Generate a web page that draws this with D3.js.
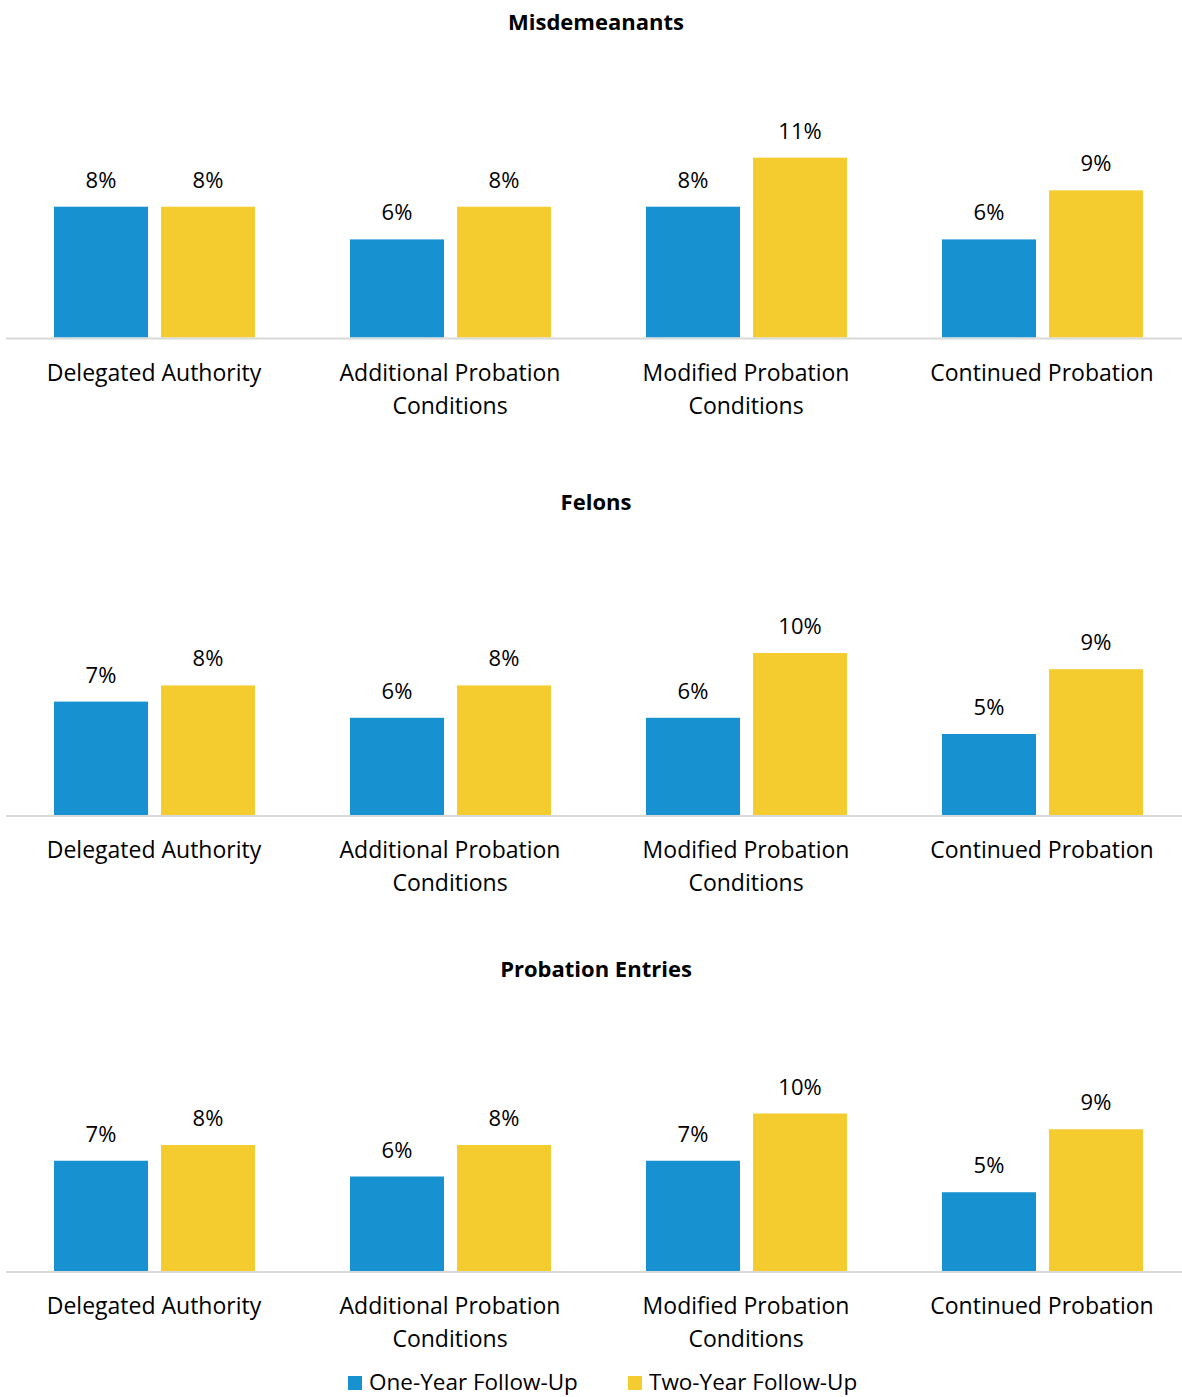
<!DOCTYPE html>
<html>
<head>
<meta charset="utf-8">
<script src="https://cdn.jsdelivr.net/npm/d3@7"></script>
<style>
  html, body { margin: 0; padding: 0; background: #fff; }
  svg { display: block; }
  text { font-family: "Open Sans", Lato, sans-serif; fill: #000; }
</style>
</head>
<body>
<svg id="chart" width="1182" height="1397"></svg>
<script>
// ---- Data ----
const categories = ["Delegated Authority", "Additional Probation Conditions", "Modified Probation Conditions", "Continued Probation"];
const seriesNames = ["One-Year Follow-Up", "Two-Year Follow-Up"];
const panelTitles = ["Misdemeanants", "Felons", "Probation Entries"];
const misdemeanantsOneYear = [0.08, 0.06, 0.08, 0.06];
const misdemeanantsTwoYear = [0.08, 0.08, 0.11, 0.09];
const felonsOneYear = [0.07, 0.06, 0.06, 0.05];
const felonsTwoYear = [0.08, 0.08, 0.10, 0.09];
const entriesOneYear = [0.07, 0.06, 0.07, 0.05];
const entriesTwoYear = [0.08, 0.08, 0.10, 0.09];

const panelData = [
  [misdemeanantsOneYear, misdemeanantsTwoYear],
  [felonsOneYear, felonsTwoYear],
  [entriesOneYear, entriesTwoYear]
];

// ---- Layout ----
const colors = ["#1891D1", "#F5CC30"];
const panels = [
  { titleY: 30,  base: 337.5, pxPerPct: 16.35 },
  { titleY: 510, base: 815,   pxPerPct: 16.2 },
  { titleY: 977, base: 1271,  pxPerPct: 15.75 }
];
const labelSize = 23;
const valueSize = 22;

const svg = d3.select("#chart");
const x0 = d3.scaleBand().domain(categories).range([6, 1190]).paddingInner(0).paddingOuter(0);
const x1 = d3.scaleBand().domain(seriesNames).range([48, 249]).paddingInner(0.1215).paddingOuter(0);
const fmt = d3.format(".0%");

function wrap(textSel, width, lineHeight) {
  textSel.each(function() {
    const t = d3.select(this);
    const words = t.text().split(/\s+/);
    const xPos = t.attr("x");
    const y = +t.attr("y");
    t.text(null);
    let line = [];
    let lineNo = 0;
    let tspan = t.append("tspan").attr("x", xPos).attr("y", y);
    for (const w of words) {
      line.push(w);
      tspan.text(line.join(" "));
      if (tspan.node().getComputedTextLength() > width && line.length > 1) {
        line.pop();
        tspan.text(line.join(" "));
        line = [w];
        lineNo++;
        tspan = t.append("tspan").attr("x", xPos).attr("y", y + lineNo * lineHeight).text(w);
      }
    }
  });
}

panels.forEach((p, pi) => {
  const y = d3.scaleLinear().domain([0, 0.12]).range([p.base, p.base - p.pxPerPct * 12]);
  const g = svg.append("g");

  g.append("text")
    .attr("x", 596).attr("y", p.titleY)
    .attr("text-anchor", "middle")
    .style("font-weight", "bold")
    .style("font-size", "22px")
    .text(panelTitles[pi]);

  const groups = g.selectAll("g.cat").data(categories).join("g")
    .attr("class", "cat")
    .attr("transform", d => `translate(${x0(d)},0)`);

  groups.selectAll("rect").data((d, ci) => seriesNames.map((s, si) => ({ s, si, v: panelData[pi][si][ci] })))
    .join("rect")
    .attr("x", d => x1(d.s))
    .attr("width", x1.bandwidth())
    .attr("y", d => y(d.v))
    .attr("height", d => y(0) - y(d.v))
    .attr("fill", d => colors[d.si]);

  groups.selectAll("text.val").data((d, ci) => seriesNames.map((s, si) => ({ s, si, v: panelData[pi][si][ci] })))
    .join("text")
    .attr("class", "val")
    .attr("x", d => x1(d.s) + x1.bandwidth() / 2)
    .attr("y", d => y(d.v) - 19)
    .attr("text-anchor", "middle")
    .style("font-size", valueSize + "px")
    .text(d => fmt(d.v));

  g.append("line")
    .attr("x1", 6).attr("x2", 1182)
    .attr("y1", p.base + 1).attr("y2", p.base + 1)
    .attr("stroke", "#D9D9D9").attr("stroke-width", 2);

  groups.append("text")
    .attr("class", "cat-label")
    .attr("x", x0.bandwidth() / 2)
    .attr("y", p.base + 43)
    .attr("text-anchor", "middle")
    .style("font-size", labelSize + "px")
    .text(d => d)
    .call(wrap, 280, 33);
});

// ---- Legend ----
const legendItems = [
  { name: seriesNames[0], color: colors[0], x: 348 },
  { name: seriesNames[1], color: colors[1], x: 628 }
];
const lg = svg.append("g");
legendItems.forEach(it => {
  lg.append("rect").attr("x", it.x).attr("y", 1376).attr("width", 14).attr("height", 14).attr("fill", it.color);
  lg.append("text").attr("x", it.x + 21).attr("y", 1390).style("font-size", "22.5px").text(it.name);
});
</script>
</body>
</html>
